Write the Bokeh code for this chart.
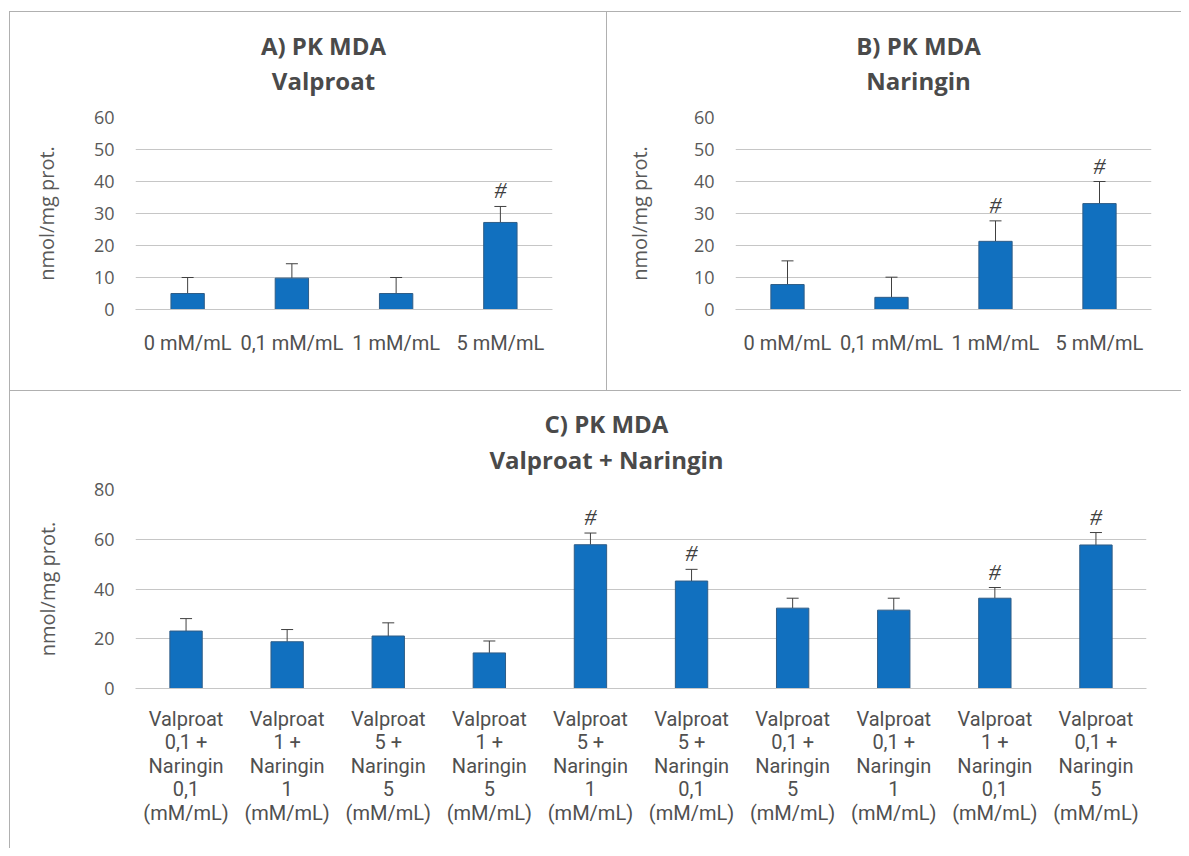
from bokeh.plotting import figure
from bokeh.models import (Range1d, FixedTicker, Whisker, TeeHead, ColumnDataSource, Spacer)
from bokeh.layouts import column, row
from bokeh.core.properties import value
from bokeh.embed import file_html
from bokeh.resources import INLINE

# ---------------- data ----------------
a_labels = ["0 mM/mL", "0,1 mM/mL", "1 mM/mL", "5 mM/mL"]
a_mean = [5.0, 9.8, 5.0, 27.2]
a_sd = [5.0, 4.5, 5.0, 5.0]
a_sig = [False, False, False, True]

b_labels = ["0 mM/mL", "0,1 mM/mL", "1 mM/mL", "5 mM/mL"]
b_mean = [7.8, 3.8, 21.3, 33.1]
b_sd = [7.4, 6.3, 6.4, 6.9]
b_sig = [False, False, True, True]

c_valproat = ["0,1", "1", "5", "1", "5", "5", "0,1", "0,1", "1", "0,1"]
c_naringin = ["0,1", "1", "5", "5", "1", "0,1", "5", "1", "0,1", "5"]
c_mean = [23.1, 18.8, 21.1, 14.3, 57.8, 43.2, 32.3, 31.5, 36.3, 57.7]
c_sd = [5.0, 4.9, 5.3, 4.8, 4.7, 4.7, 4.0, 4.8, 4.3, 5.0]
c_sig = [False, False, False, False, True, True, False, False, True, True]
c_labels = ["Valproat\n%s +\nNaringin\n%s\n(mM/mL)" % (v, n)
            for v, n in zip(c_valproat, c_naringin)]

y_title = "nmol/mg prot."

BAR = "#1170BF"
BAR_EDGE = "#2f5d87"
GRID = "#c6c6c6"
BORDER = "#b0b0b0"
TXT = "#595959"
TITLE_TXT = "#4a4a4a"


def make_panel(labels, mean, sd, sig, ymax, ystep, width, height,
               fl, fr, ft, fb, t1, t2, t_cx, t_y1, t_y2, ylab_standoff, xlab_standoff):
    n = len(labels)
    xs = list(range(n))
    src = ColumnDataSource(dict(
        x=xs, mean=mean,
        upper=[m + s for m, s in zip(mean, sd)],
        mark=["#" if s else "" for s in sig],
    ))
    p = figure(width=width, height=height,
               x_range=Range1d(-0.5, n - 0.5), y_range=Range1d(0, ymax),
               output_backend="svg", toolbar_location=None,
               min_border_left=fl, min_border_right=fr,
               min_border_top=ft, min_border_bottom=fb)
    p.outline_line_color = None
    p.background_fill_color = "white"
    p.border_fill_color = "white"

    p.vbar(x="x", top="mean", width=0.32, source=src,
           fill_color=BAR, line_color=BAR_EDGE, line_width=1)
    p.add_layout(Whisker(source=src, base="x", upper="upper", lower="mean",
                         lower_head=None,
                         upper_head=TeeHead(size=12, line_color="#404040", line_width=1),
                         line_color="#404040", line_width=1))
    p.text(x="x", y="upper", text="mark", source=src,
           text_font=value("Liberation Serif"), text_font_style="italic",
           text_font_size="24px", text_align="center", text_baseline="middle",
           y_offset=-16, text_color="#404040")

    # axes
    p.xaxis.ticker = FixedTicker(ticks=xs)
    p.xaxis.major_label_overrides = {i: lab for i, lab in enumerate(labels)}
    p.xaxis.major_tick_line_color = None
    p.xaxis.minor_tick_line_color = None
    p.xaxis.axis_line_color = GRID
    p.xaxis.major_label_text_font = "Roboto"
    p.xaxis.major_label_text_font_size = "20px"
    p.xaxis.major_label_text_line_height = 0.98
    p.xaxis.major_label_text_color = "#505050"
    p.xaxis.major_label_standoff = xlab_standoff

    p.yaxis.ticker = FixedTicker(ticks=list(range(0, ymax + 1, ystep)))
    p.yaxis.axis_line_color = None
    p.yaxis.major_tick_line_color = None
    p.yaxis.minor_tick_line_color = None
    p.yaxis.major_label_text_font = "Open Sans"
    p.yaxis.major_label_text_font_size = "18px"
    p.yaxis.major_label_text_color = TXT
    p.yaxis.major_label_standoff = 15
    p.yaxis.axis_label = y_title
    p.yaxis.axis_label_text_font = "Open Sans"
    p.yaxis.axis_label_text_font_size = "20px"
    p.yaxis.axis_label_text_font_style = "normal"
    p.yaxis.axis_label_text_color = TXT
    p.yaxis.axis_label_standoff = ylab_standoff

    p.xgrid.visible = False
    p.ygrid.grid_line_color = GRID
    p.ygrid.grid_line_width = 1

    # two-line title, drawn above the frame (overlay level -> not clipped)
    fw = width - fl - fr
    fh = height - ft - fb
    ppu = fh / ymax
    tx = -0.5 + (t_cx - fl) / fw * n
    p.text(x=[tx, tx], y=[ymax + (ft - t_y1) / ppu, ymax + (ft - t_y2) / ppu],
           text=[t1, t2], level="overlay",
           text_align="center", text_baseline="middle",
           text_font=value("Open Sans"), text_font_style="bold",
           text_font_size="24px", text_color=TITLE_TXT)
    return p


pA = make_panel(a_labels, a_mean, a_sd, a_sig, 60, 10, 596, 378,
                125, 54, 105, 81, "A) PK MDA", "Valproat", 313, 33, 68, 31, 15)
pB = make_panel(b_labels, b_mean, b_sd, b_sig, 60, 10, 574, 378,
                128, 30, 105, 81, "B) PK MDA", "Naringin", 311, 33, 68, 38, 15)
pC = make_panel(c_labels, c_mean, c_sd, c_sig, 80, 20, 1171, 457,
                125, 35, 98, 160, "C) PK MDA", "Valproat + Naringin", 596, 32, 68, 30, 12)


def gap(w, h):
    return Spacer(width=w, height=h)


def rule(w, h):
    return Spacer(width=w, height=h, styles={"background-color": BORDER})


layout = column(
    gap(1181, 11),
    row(gap(9, 1), rule(1172, 1)),
    row(gap(9, 378), rule(1, 378), pA, rule(1, 378), pB),
    row(gap(9, 1), rule(1172, 1)),
    row(gap(9, 457), rule(1, 457), pC),
)

open("out.html", "w").write(file_html(layout, INLINE))
